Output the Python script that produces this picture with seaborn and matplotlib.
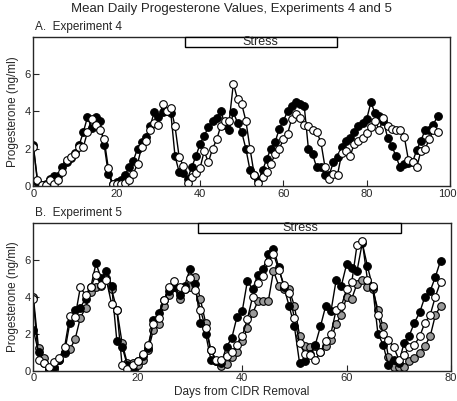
import numpy as np
import pandas as pd
import seaborn as sns
import matplotlib.pyplot as plt
import matplotlib.transforms as mtransforms
from matplotlib.patches import Rectangle

# Experiment 4 (days 0-97)
days_a = list(range(98))
exp4_black = [2.2, 0.2, 0.05, 0.1, 0.36, 0.53, 0.55, 1.0, 1.3, 1.5,
              1.8, 2.2, 2.9, 3.7, 3.1, 3.7, 3.5, 2.2, 0.66, 0.1,
              0.2, 0.3, 0.6, 1.0, 1.37, 2.0, 2.35, 2.65, 3.2, 3.95,
              3.7, 3.95, 4.0, 3.9, 1.6, 0.75, 0.7, 0.4, 1.0, 1.6,
              2.25, 2.7, 3.15, 3.5, 3.65, 4.0, 3.3, 3.0, 3.95, 3.4,
              2.9, 2.0, 0.84, 0.62, 0.3, 0.84, 1.46, 2.0, 2.35, 3.06,
              3.5, 4.0, 4.3, 4.5, 4.4, 4.3, 2.0, 1.7, 1.0, 1.0,
              0.6, 0.6, 1.28, 1.55, 2.1, 2.44, 2.6, 2.9, 3.2, 3.4,
              3.6, 4.5, 3.9, 3.77, 3.5, 2.6, 2.17, 1.6, 1.0, 1.2,
              1.23, 1.3, 1.94, 2.44, 3.0, 3.0, 3.3, 3.77]
exp4_white = [2.1, 0.34, 0.05, 0.05, 0.3, 0.1, 0.3, 0.78, 1.4, 1.55,
              1.7, 2.1, 2.1, 2.9, 3.6, 3.3, 3.0, 2.5, 0.96, 0.1,
              0.1, 0.12, 0.15, 0.34, 0.66, 1.2, 2.1, 2.4, 3.0, 3.4,
              3.27, 4.4, 4.0, 4.2, 3.2, 1.55, 1.1, 0.16, 0.5, 0.7,
              0.96, 1.87, 1.28, 2.0, 2.5, 3.24, 3.5, 3.5, 5.5, 4.65,
              4.4, 3.5, 2.0, 0.62, 0.16, 0.48, 0.75, 1.2, 1.7, 2.0,
              2.5, 2.8, 3.6, 3.86, 3.65, 3.3, 3.2, 3.0, 2.9, 2.35,
              1.0, 0.4, 0.66, 0.62, 1.76, 1.9, 1.6, 2.26, 2.4, 2.6,
              2.83, 3.15, 3.5, 3.0, 3.65, 3.2, 3.05, 3.0, 3.0, 2.65,
              1.4, 1.28, 1.0, 1.9, 2.0, 2.5, 3.0, 2.9]

# Experiment 5 (days 0-78)
days_b = list(range(79))
exp5_black = [2.2, 1.0, 0.4, 0.1, 0.2, 0.6, 1.0, 2.6, 3.3, 3.4,
              3.9, 4.5, 5.8, 5.0, 5.4, 4.6, 1.6, 1.3, 0.3, 0.05,
              0.5, 0.8, 1.2, 2.75, 3.1, 3.8, 4.3, 4.55, 4.1, 4.6,
              5.5, 4.7, 2.6, 2.0, 0.6, 0.5, 0.4, 1.3, 1.75, 2.9,
              3.2, 4.85, 4.4, 5.2, 5.5, 6.3, 6.6, 5.6, 4.5, 3.5,
              2.4, 0.4, 0.5, 0.9, 1.4, 2.4, 3.5, 3.2, 4.9, 4.6,
              5.75, 5.55, 5.4, 6.9, 5.65, 4.5, 2.0, 1.4, 0.3, 0.6,
              0.4, 1.5, 1.9, 2.6, 3.15, 4.0, 4.3, 5.07, 5.95]
exp5_white = [3.85, 0.6, 0.4, 0.2, 0.45, 0.7, 1.3, 2.95, 2.9, 4.5,
              4.1, 4.5, 5.2, 4.65, 4.9, 3.6, 3.3, 0.3, 0.1, 0.3,
              0.5, 0.9, 1.4, 2.55, 2.85, 3.8, 4.5, 4.85, 4.5, 4.4,
              5.0, 4.35, 3.3, 2.3, 1.1, 0.6, 0.58, 0.8, 1.03, 1.4,
              1.85, 2.8, 4.0, 4.75, 5.1, 5.85, 6.3, 5.47, 4.65, 4.2,
              2.85, 1.5, 0.9, 0.85, 0.6, 1.0, 1.6, 2.0, 3.3, 3.5,
              4.4, 4.8, 6.8, 7.0, 4.9, 4.6, 3.0, 2.0, 1.67, 1.3,
              0.6, 0.85, 1.3, 1.4, 1.85, 2.6, 3.0, 4.0, 4.8]
exp5_gray = [4.0, 1.2, 0.7, 0.1, 0.1, 0.6, 0.95, 1.15, 1.7, 2.85,
             3.4, 4.25, 4.5, 4.6, 5.0, 4.4, 3.3, 1.5, 0.4, 0.4,
             0.3, 0.6, 1.1, 2.2, 2.55, 3.5, 4.1, 4.5, 3.85, 4.4,
             4.5, 5.07, 3.85, 2.6, 1.1, 0.5, 0.25, 0.36, 0.72, 1.03,
             1.58, 2.3, 3.1, 3.75, 3.75, 3.75, 5.4, 4.6, 4.4, 4.4,
             3.5, 1.9, 1.35, 1.3, 1.35, 1.0, 1.35, 1.67, 2.55, 3.0,
             4.0, 3.9, 4.7, 4.9, 4.5, 4.4, 3.3, 2.4, 0.76, 0.2,
             0.2, 0.2, 0.54, 0.67, 0.98, 1.34, 1.85, 3.0, 3.5]

stress_a = (36.3, 72.8)
stress_b = (31.6, 70.5)

sns.set_style("ticks")
plt.rcParams['font.family'] = ['Liberation Sans', 'DejaVu Sans']

fig = plt.figure(figsize=(4.57, 4.01), dpi=100)
ax_a = fig.add_axes([0.0729, 0.536, 0.912, 0.372])
ax_b = fig.add_axes([0.0729, 0.0756, 0.914, 0.369])

def series(ax, x, y, face):
    sns.lineplot(x=x, y=y, ax=ax, color='black', linewidth=1.0, marker='o',
                 markersize=5.5, markerfacecolor=face, markeredgecolor='black',
                 markeredgewidth=0.8)

series(ax_a, days_a, exp4_black, 'black')
series(ax_a, days_a, exp4_white, 'white')

series(ax_b, days_b, exp5_gray, '#9a9a9a')
series(ax_b, days_b, exp5_black, 'black')
series(ax_b, days_b, exp5_white, 'white')

def stress(ax, span, ybot):
    ax.add_patch(Rectangle((span[0], ybot), span[1] - span[0], 8 - ybot,
                           facecolor='white', edgecolor='black', linewidth=1.0,
                           zorder=5, clip_on=False))
    ax.text((span[0] + span[1]) / 2, (ybot + 8) / 2 - 0.02, 'Stress',
            ha='center', va='center', fontsize=9, zorder=6)

stress(ax_a, stress_a, 7.47)
stress(ax_b, stress_b, 7.43)

for ax, xmax, ticks in [(ax_a, 100, [0, 20, 40, 60, 80, 100]),
                        (ax_b, 80, [0, 20, 40, 60, 80])]:
    ax.set_xlim(0, xmax)
    ax.set_ylim(0, 8)
    ax.set_xticks(ticks)
    ax.set_yticks([0, 2, 4, 6])
    ax.tick_params(direction='in', length=4, width=0.8, labelsize=8, pad=2)
    ax.set_ylabel('Progesterone (ng/ml)', fontsize=8.5, labelpad=4)
    ax.set_xlabel('')
    for s in ax.spines.values():
        s.set_linewidth(1.0)
        s.set_visible(True)

# nudge the "100" label so it stays inside the figure
last = ax_a.get_xticklabels()[-1]
last.set_transform(last.get_transform() +
                   mtransforms.ScaledTranslation(-3 / 100, 0, fig.dpi_scale_trans))

ax_b.set_xlabel('Days from CIDR Removal', fontsize=8.5, labelpad=2)

fig.text(0.507, 0.978, 'Mean Daily Progesterone Values, Experiments 4 and 5',
         ha='center', va='center', fontsize=9.5)
fig.text(0.076, 0.932, 'A.  Experiment 4', ha='left', va='center', fontsize=8.5)
fig.text(0.076, 0.468, 'B.  Experiment 5', ha='left', va='center', fontsize=8.5)

fig.savefig('out.png', dpi=100)
